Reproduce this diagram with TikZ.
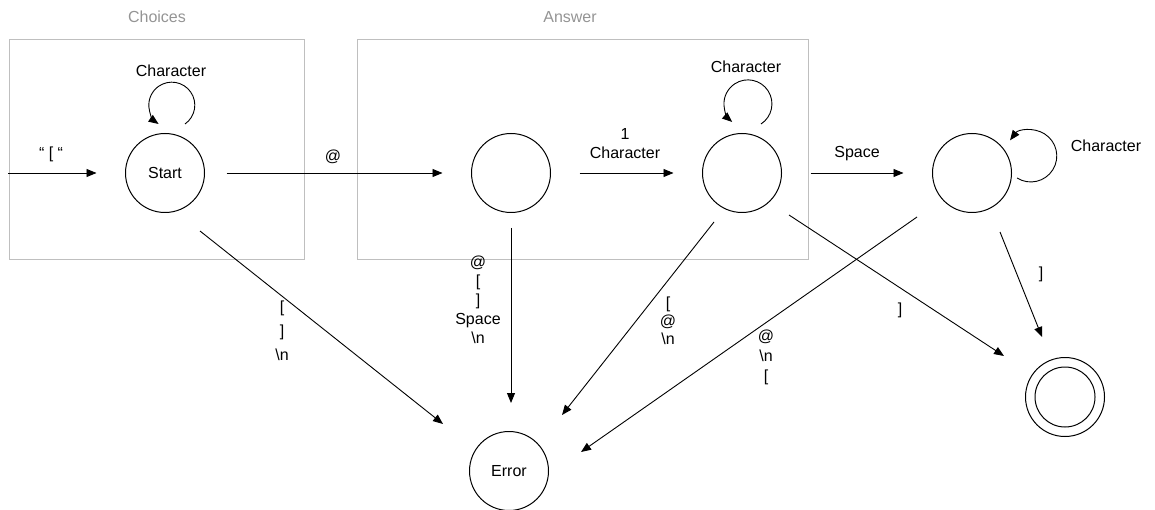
\documentclass[tikz,border=0pt]{standalone}
\usepackage{fontspec}
\setmainfont{Liberation Sans}
\usetikzlibrary{arrows.meta,calc}
\begin{document}
\begin{tikzpicture}[x=1pt,y=-1pt,
  state/.style={circle,draw,line width=1pt,minimum size=79pt,inner sep=0pt,outer sep=0pt,
    font=\fontsize{16}{19}\selectfont},
  arr/.style={line width=0.9pt,-{Triangle[length=10pt,width=8pt]}},
  lbl/.style={font=\fontsize{16}{19}\selectfont,inner sep=0pt,align=center},
  group/.style={draw=black!25,line width=1pt},
  title/.style={font=\fontsize{16}{19}\selectfont,text=black!42}]
\useasboundingbox (0,0) rectangle (1155,510);

% groups of states
\draw[group] (9,40) rectangle (304,260);
\draw[group] (357,40) rectangle (808,260);
\node[title] (tchoices) at (157,17) {Choices};
\node[title] (tanswer) at (570,17) {Answer};

% states
\node[state] (start) at (165,173) {Start};
\node[state] (a) at (511,173) {};
\node[state] (b) at (742,173) {};
\node[state] (c) at (972,173) {};
\node[state] (err) at (509,471) {Error};
\node[state] (fin) at (1065,397) {};
\draw[line width=1pt] (fin.center) circle[radius=30];

% entry
\coordinate (entry) at (8,173);
\draw[arr,shorten >=29pt] (entry) -- (start);
\node[lbl] (lentry) at (51,154) {“ [ “};

% self loops
\draw[arr] ($(start)+(20,-49)$) arc[start angle=55,end angle=-235,radius=23];
\node[lbl] (lstart) at (171,71) {Character};
\draw[arr] ($(b)+(19,-49)$) arc[start angle=57,end angle=-229,radius=24];
\node[lbl] (lb) at (746,67) {Character};
\draw[arr] ($(c)+(45,5)$) arc[start angle=122,end angle=-143,radius=26];
\node[lbl] (lc) at (1106,146) {Character};

% main path
\draw[arr,shorten <=22pt,shorten >=29pt] (start) -- (a);
\node[lbl] (lsa) at (333,157) {@};
\draw[arr,shorten <=29pt,shorten >=29pt] (a) -- (b);
\node[lbl] (lab) at (625,144) {1\\Character};
\draw[arr,shorten <=29pt,shorten >=29pt] (b) -- (c);
\node[lbl] (lbc) at (857,154) {Space};

% transitions to the error state
\draw[arr] ($(start)+(35,58)$) -- ($(err)+(-66,-47)$);
\node[lbl,font=\fontsize{16}{24}\selectfont] (lse) at (282,331) {{[}\\{]}\\\textbackslash n};
\draw[arr] ($(a)+(0,55)$) -- ($(err)+(2,-68)$);
\node[lbl] (lae) at (478,300) {@\\{[}\\{]}\\Space\\\textbackslash n};
\draw[arr] ($(b)+(-28,49)$) -- ($(err)+(53,-56)$);
\node[lbl,font=\fontsize{16}{18}\selectfont] (lbe) at (668,321) {{[}\\@\\\textbackslash n};
\draw[arr] ($(c)+(-55,44)$) -- ($(err)+(72,-19)$);
\node[lbl,font=\fontsize{16}{20}\selectfont] (lce) at (766,357) {@\\\textbackslash n\\{[}};

% transitions to the final state
\draw[arr] ($(b)+(47,42)$) -- ($(fin)+(-61,-41)$);
\node[lbl] (lbf) at (900,310) {]};
\draw[arr] ($(c)+(28,59)$) -- ($(fin)+(-23,-60)$);
\node[lbl] (lcf) at (1041,274) {]};
\end{tikzpicture}
\end{document}
